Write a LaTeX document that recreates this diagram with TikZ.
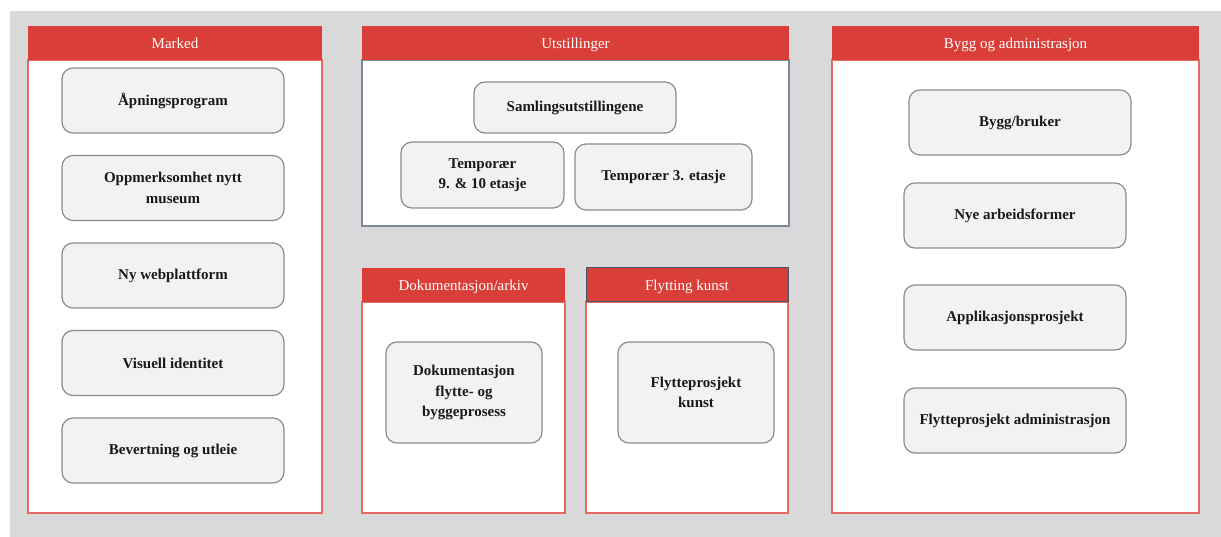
\documentclass[tikz,border=0pt]{standalone}
\usepackage{fontspec}
\setmainfont{Liberation Serif}
\usepackage{xcolor}
\usepackage{tikz}

\definecolor{bggray}{RGB}{217,217,217}
\definecolor{headred}{RGB}{217,62,56}
\definecolor{edgered}{RGB}{228,105,100}
\definecolor{boxfill}{RGB}{242,242,242}
\definecolor{boxedge}{RGB}{140,140,140}
\definecolor{slate}{RGB}{68,84,106}
\definecolor{slatelight}{RGB}{125,138,158}

\begin{document}
\begin{tikzpicture}[x=1pt, y=-1pt, node distance=87.5pt]
    % Styles
    \tikzstyle{head} = [rectangle, fill=headred, text=white, minimum height=34pt, inner sep=0pt,
        text height=13pt, text depth=2pt, font=\fontsize{15}{18}\selectfont]
    \tikzstyle{panel} = [rectangle, draw=edgered, line width=1.2pt, fill=white, inner sep=0pt]
    \tikzstyle{item} = [rectangle, rounded corners=11pt, draw=boxedge, line width=1.2pt, fill=boxfill,
        text=black!90, align=center, inner sep=2pt, font=\fontsize{15}{20.5}\selectfont\bfseries]

    % Background
    \useasboundingbox (0,0) rectangle (1221,537);
    \fill[bggray] (10,11) rectangle (1221,537);

    % Marked
    \node[panel, minimum width=294pt, minimum height=453pt] (markedbody) at (175,286.5) {};
    \node[head, minimum width=294pt] (markedhead) at (175,43) {Marked};
    \node[item, minimum width=222pt, minimum height=65pt] (apning) at (173,100.5) {Åpningsprogram};
    \node[item, minimum width=222pt, minimum height=65pt, below of=apning] (oppmerk) {Oppmerksomhet nytt\\museum};
    \node[item, minimum width=222pt, minimum height=65pt, below of=oppmerk] (web) {Ny webplattform};
    \node[item, minimum width=222pt, minimum height=65pt, below of=web] (visuell) {Visuell identitet};
    \node[item, minimum width=222pt, minimum height=65pt, below of=visuell] (bevert) {Bevertning og utleie};

    % Utstillinger
    \node[panel, draw=slatelight, minimum width=427pt, minimum height=166pt] (utstbody) at (575.5,143) {};
    \node[head, minimum width=427pt] (utsthead) at (575.5,43) {Utstillinger};
    \node[item, minimum width=202pt, minimum height=51pt] (samling) at (575,107.5) {Samlingsutstillingene};
    \node[item, minimum width=163pt, minimum height=66pt] (temp910) at (482.5,175) {Temporær\\9. \& 10 etasje};
    \node[item, minimum width=177pt, minimum height=66pt] (temp3) at (663.5,177) {Temporær 3. etasje};

    % Dokumentasjon/arkiv
    \node[panel, minimum width=203pt, minimum height=211pt] (dokbody) at (463.5,407.5) {};
    \node[head, minimum width=203pt] (dokhead) at (463.5,285) {Dokumentasjon/arkiv};
    \node[item, minimum width=156pt, minimum height=101pt] (dokprosess) at (464,392.5) {Dokumentasjon\\flytte- og\\byggeprosess};

    % Flytting kunst
    \node[panel, minimum width=202pt, minimum height=211pt] (kunstbody) at (687,407.5) {};
    \node[head, draw=slate, line width=1pt, minimum width=202pt] (kunsthead) at (687,285) {Flytting kunst};
    \node[item, minimum width=156pt, minimum height=101pt] (kunstprosj) at (696,392.5) {Flytteprosjekt\\kunst};

    % Bygg og administrasjon
    \node[panel, minimum width=367pt, minimum height=453pt] (byggbody) at (1015.5,286.5) {};
    \node[head, minimum width=367pt] (bygghead) at (1015.5,43) {Bygg og administrasjon};
    \node[item, minimum width=222pt, minimum height=65pt] (bruker) at (1020,122.5) {Bygg/bruker};
    \node[item, minimum width=222pt, minimum height=65pt] (arbeid) at (1015,215.5) {Nye arbeidsformer};
    \node[item, minimum width=222pt, minimum height=65pt] (applik) at (1015,317.5) {Applikasjonsprosjekt};
    \node[item, minimum width=222pt, minimum height=65pt] (flytteadm) at (1015,420.5) {Flytteprosjekt administrasjon};

\end{tikzpicture}
\end{document}
